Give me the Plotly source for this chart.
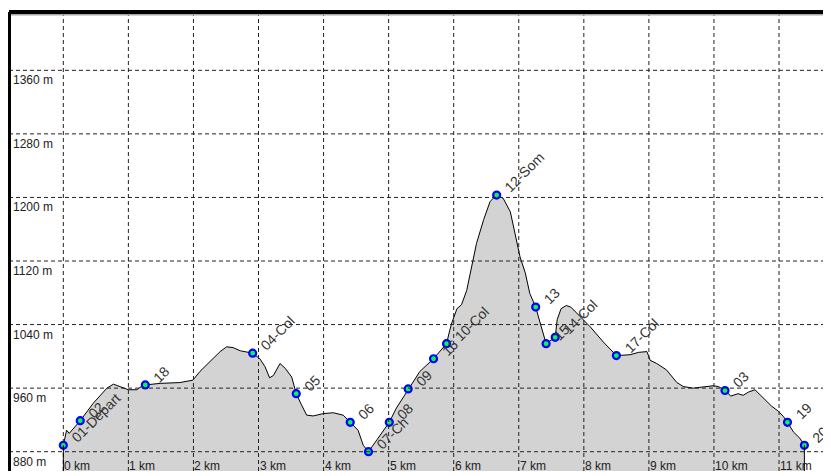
import plotly.graph_objects as go

# Profile (distance km, elevation m)
dist = [0.00, 0.05, 0.09, 0.26, 0.46, 0.67, 0.77, 0.92, 1.00, 1.13, 1.18, 1.26, 1.49, 1.79, 1.99,
        2.10, 2.25, 2.41, 2.51, 2.61, 2.72, 2.91, 3.02, 3.10, 3.17, 3.23, 3.33, 3.41, 3.51, 3.58,
        3.66, 3.74, 3.84, 4.00, 4.15, 4.30, 4.41, 4.53, 4.61, 4.69, 4.82, 4.92, 5.01, 5.12, 5.23,
        5.30, 5.48, 5.69, 5.89, 5.94, 5.97, 6.05, 6.12, 6.20, 6.28, 6.35, 6.46, 6.56, 6.66, 6.76,
        6.87, 6.94, 7.02, 7.10, 7.17, 7.26, 7.33, 7.42, 7.56, 7.59, 7.65, 7.73, 7.80, 7.94, 8.10,
        8.30, 8.50, 8.71, 8.84, 8.97, 9.02, 9.12, 9.27, 9.43, 9.53, 9.68, 9.84, 9.99, 10.07, 10.17,
        10.26, 10.37, 10.45, 10.53, 10.63, 10.76, 10.89, 10.99, 11.07, 11.13, 11.22, 11.32, 11.39]
elev = [888, 907, 903, 919, 941, 960, 965, 960, 958, 958, 961, 964, 966, 967, 970,
        981, 993, 1006, 1012, 1011, 1007, 1004, 997, 987, 973, 976, 991, 985, 974, 953,
        939, 926, 925, 928, 929, 926, 917, 907, 888, 880, 895, 907, 917, 935, 949,
        959, 981, 997, 1016, 1033, 1042, 1060, 1065, 1083, 1117, 1142, 1172, 1195, 1203, 1199,
        1182, 1155, 1125, 1105, 1079, 1062, 1042, 1016, 1024, 1046, 1060, 1064, 1062, 1050, 1037,
        1018, 1001, 1002, 1005, 1006, 995, 991, 983, 967, 962, 960, 962, 963, 962, 957,
        950, 953, 951, 955, 958, 947, 937, 931, 924, 917, 905, 897, 888]

# Waypoints
wp_dist = [0.00, 0.26, 1.26, 2.91, 3.58, 4.41, 4.69, 5.01, 5.30, 5.69, 5.89, 6.66, 7.26, 7.42,
           7.56, 8.50, 10.17, 11.13, 11.39]
wp_elev = [888, 919, 964, 1004, 953, 917, 880, 917, 959, 997, 1016, 1203, 1062, 1016,
           1024, 1001, 957, 917, 888]
wp_names = ["01-Depart", "02", "18", "04-Col", "05", "06", "07-Ch", "08", "09", "16", "10-Col",
            "12-Som", "13", "15", "14-Col", "17-Col", "03", "19", "20-Arrivée"]

# Axis ticks
x_ticks = list(range(0, 12))
x_tick_labels = [f"{k} km" for k in x_ticks]
y_ticks = [880, 960, 1040, 1120, 1200, 1280, 1360]
y_tick_labels = [f"{v} m" for v in y_ticks]

X_RANGE = [-0.835, 11.799]
Y_RANGE = [855.7, 1433.4]

FONT = "Liberation Sans, Arial, sans-serif"
GRID = "#222222"

fig = go.Figure()
fig.add_trace(go.Scatter(x=dist, y=elev, mode="lines", fill="tozeroy",
                         fillcolor="#d3d3d3", line=dict(color="black", width=1),
                         hoverinfo="skip", showlegend=False))
fig.add_trace(go.Scatter(x=wp_dist, y=wp_elev, mode="markers",
                         marker=dict(size=7, color="#00ff40", line=dict(color="#0000ff", width=2.2)),
                         showlegend=False))

shapes = []
for k in x_ticks:
    shapes.append(dict(type="line", xref="x", yref="paper", x0=k, x1=k, y0=0, y1=1,
                       line=dict(color=GRID, width=1, dash="4px,3px"), layer="above"))
for v in y_ticks:
    shapes.append(dict(type="line", xref="paper", yref="y", x0=0, x1=1, y0=v, y1=v,
                       line=dict(color=GRID, width=1, dash="4px,3px"), layer="above"))
# vertical closing edges at start and end of profile
shapes.append(dict(type="line", xref="x", yref="y", x0=dist[0], x1=dist[0], y0=elev[0], y1=Y_RANGE[0],
                   line=dict(color="black", width=1), layer="above"))
shapes.append(dict(type="line", xref="x", yref="y", x0=dist[-1], x1=dist[-1], y0=elev[-1], y1=Y_RANGE[0],
                   line=dict(color="black", width=1), layer="above"))
# frame (with the light shadow line under the top border)
shapes.append(dict(type="line", xref="paper", yref="paper", x0=0, x1=1, y0=0.994, y1=0.994,
                   line=dict(color="#a8a8a8", width=1.5), layer="above"))
shapes.append(dict(type="line", xref="paper", yref="paper", x0=0, x1=1, y0=1, y1=1,
                   line=dict(color="black", width=4), layer="above"))
shapes.append(dict(type="line", xref="paper", yref="paper", x0=0, x1=0, y0=0, y1=1,
                   line=dict(color="black", width=4), layer="above"))

annotations = []
for v, t in zip(y_ticks, y_tick_labels):
    annotations.append(dict(xref="paper", yref="y", x=0, y=v, text=t, showarrow=False,
                            xanchor="left", yanchor="top", xshift=2, yshift=-1,
                            font=dict(family=FONT, size=12, color="#222")))
for k, t in zip(x_ticks, x_tick_labels):
    annotations.append(dict(xref="x", yref="paper", x=k, y=0, text=t, showarrow=False,
                            xanchor="left", yanchor="bottom", xshift=-1, yshift=-4,
                            font=dict(family=FONT, size=12, color="#222")))
for d, e, n in zip(wp_dist, wp_elev, wp_names):
    annotations.append(dict(xref="x", yref="y", x=d, y=e, text=n, showarrow=False,
                            textangle=-45, xanchor="left", yanchor="bottom",
                            xshift=2, yshift=-3,
                            font=dict(family=FONT, size=14, color="#333")))

# The page body has an 8px margin: size the figure so the plot lands where the reference has it.
fig.update_layout(
    width=823, height=468, autosize=False,
    margin=dict(l=1, r=0, t=4, b=5),
    paper_bgcolor="white", plot_bgcolor="white",
    xaxis=dict(range=X_RANGE, showgrid=False, zeroline=False, showticklabels=False,
               ticks="", showline=False, fixedrange=True),
    yaxis=dict(range=Y_RANGE, showgrid=False, zeroline=False, showticklabels=False,
               ticks="", showline=False, fixedrange=True),
    shapes=shapes, annotations=annotations,
)

fig.write_html("out.html")
